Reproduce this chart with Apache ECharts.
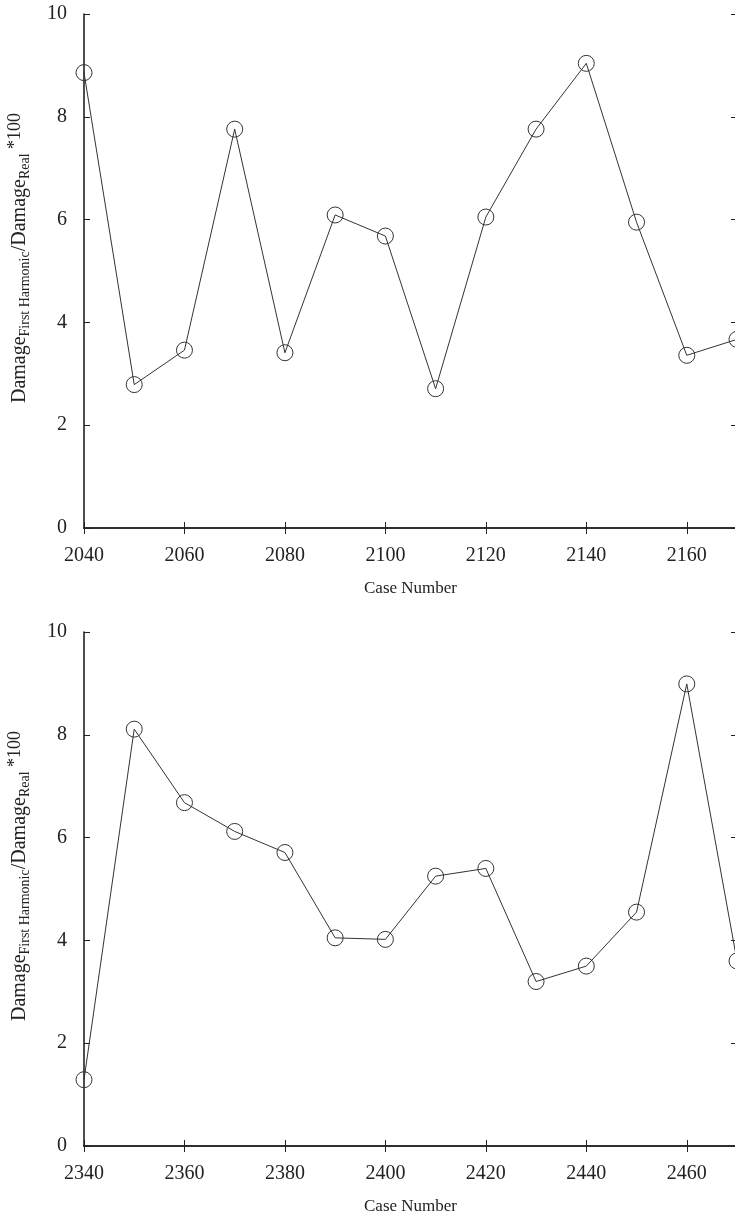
<!DOCTYPE html>
<html>
<head>
<meta charset="utf-8">
<script src="https://cdn.jsdelivr.net/npm/echarts@6/dist/echarts.min.js"></script>
<style>
  html, body { margin: 0; padding: 0; background: #fff; }
  #chart { width: 735px; height: 1213px; }
</style>
</head>
<body>
<div id="chart"></div>
<script>
// case numbers and damage ratios
const topCases = [2040, 2050, 2060, 2070, 2080, 2090, 2100, 2110, 2120, 2130, 2140, 2150, 2160, 2170];
const topRatio = [8.86, 2.79, 3.46, 7.76, 3.41, 6.09, 5.68, 2.71, 6.05, 7.76, 9.04, 5.95, 3.36, 3.67];

const bottomCases = [2340, 2350, 2360, 2370, 2380, 2390, 2400, 2410, 2420, 2430, 2440, 2450, 2460, 2470];
const bottomRatio = [1.29, 8.11, 6.68, 6.12, 5.71, 4.05, 4.02, 5.25, 5.4, 3.2, 3.5, 4.55, 8.99, 3.6];

const xRanges = [[2040, 2170], [2340, 2470]];

const FONT = "'Liberation Serif', 'DejaVu Serif', serif";
const INK = '#222';

const yName = '{n|Damage}{s|First Harmonic}{n|/Damage}{s|Real}{p| *100}';

function pairs(xs, ys) {
  return xs.map((x, idx) => [x, ys[idx]]);
}

const axisLine = { show: true, lineStyle: { color: INK, width: 1.6 } };
const innerTick = { show: true, inside: true, length: 6, lineStyle: { color: INK, width: 1 } };

// right frame sits just past the canvas edge, like in the cropped original
const grids = [
  { left: 84, top: 14, width: 653, height: 514, outerBoundsMode: 'none', containLabel: false },
  { left: 84, top: 632, width: 653, height: 514, outerBoundsMode: 'none', containLabel: false },
];

const xAxis = [];
const yAxis = [];
const series = [];

[[topCases, topRatio], [bottomCases, bottomRatio]].forEach(([cases, ratio], g) => {
  const [min, max] = xRanges[g];
  xAxis.push({
    type: 'value', gridIndex: g, min, max, interval: 20, position: 'bottom',
    axisLine, axisTick: innerTick, splitLine: { show: false },
    axisLabel: {
      color: INK, fontFamily: FONT, fontSize: 20, margin: 18, showMaxLabel: false,
      formatter: (v) => String(v),
    },
    name: 'Case Number', nameLocation: 'middle', nameGap: 52,
    nameTextStyle: { color: INK, fontFamily: FONT, fontSize: 17 },
  });
  xAxis.push({
    type: 'value', gridIndex: g, min, max, interval: 20, position: 'top',
    axisLine, axisTick: innerTick, axisLabel: { show: false }, splitLine: { show: false },
  });
  yAxis.push({
    type: 'value', gridIndex: g, min: 0, max: 10, interval: 2, position: 'left',
    axisLine, axisTick: innerTick, splitLine: { show: false },
    axisLabel: { color: INK, fontFamily: FONT, fontSize: 20, margin: 17 },
    name: yName, nameLocation: 'middle', nameGap: 50, nameRotate: 90,
    nameTextStyle: {
      color: INK,
      fontFamily: FONT,
      padding: [0, 0, 0, 26],
      rich: {
        n: { fontFamily: FONT, fontSize: 20, color: INK },
        s: { fontFamily: FONT, fontSize: 14, color: INK, padding: [10, 0, 0, 0] },
        p: { fontFamily: FONT, fontSize: 18, color: INK, padding: [0, 0, 10, 0] },
      },
    },
  });
  yAxis.push({
    type: 'value', gridIndex: g, min: 0, max: 10, interval: 2, position: 'right',
    axisLine, axisTick: innerTick, axisLabel: { show: false }, splitLine: { show: false },
  });
  series.push({
    type: 'line',
    xAxisIndex: g * 2,
    yAxisIndex: g * 2,
    data: pairs(cases, ratio),
    symbol: 'circle',
    symbolSize: 16,
    clip: false,
    lineStyle: { color: '#333', width: 1 },
    itemStyle: { color: 'rgba(0,0,0,0)', borderColor: '#333', borderWidth: 1 },
  });
});

const chart = echarts.init(document.getElementById('chart'), null, { renderer: 'canvas' });
chart.setOption({
  backgroundColor: '#fff',
  animation: false,
  grid: grids,
  xAxis,
  yAxis,
  series,
});
</script>
</body>
</html>
